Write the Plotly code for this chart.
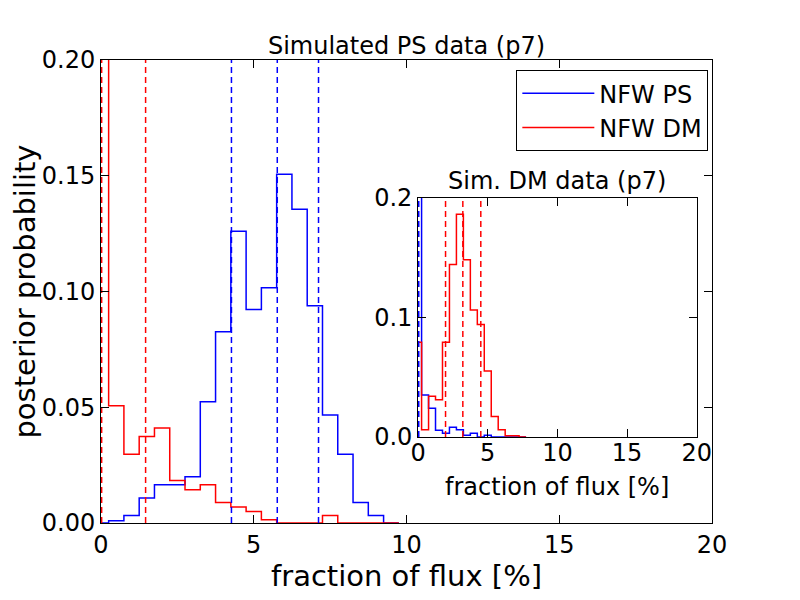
import plotly.graph_objects as go

# bin centres (width 0.5), probabilities per bin
bin_width = 0.5
ps_centres = [i * bin_width for i in range(20)]
ps_data_nfw_ps = [0.0, 0.001, 0.0032, 0.0108, 0.0165, 0.0165, 0.020, 0.0524, 0.0826, 0.126,
                  0.0922, 0.1016, 0.1506, 0.1355, 0.0938, 0.0467, 0.0297, 0.0089, 0.0032, 0.0]
ps_data_nfw_dm = [0.766, 0.0506, 0.0297, 0.0374, 0.041, 0.0184, 0.0144, 0.0165, 0.0089, 0.0069,
                  0.005, 0.0014, 0.0, 0.0, 0.0, 0.0032, 0.0, 0.0, 0.0, 0.0]
ps_lines_nfw_ps = [4.27, 5.77, 7.12]
ps_lines_nfw_dm = [0.01, 0.02, 1.46]

dm_centres = [i * bin_width for i in range(16)]
dm_data_nfw_ps = [0.913, 0.035, 0.024, 0.0056, 0.003, 0.008, 0.006, 0.0014, 0.003, 0.0,
                  0.0014, 0.0, 0.0, 0.0, 0.0, 0.0]
dm_data_nfw_dm = [0.079, 0.006, 0.034, 0.031, 0.079, 0.144, 0.186, 0.148, 0.106, 0.094,
                  0.055, 0.017, 0.006, 0.001, 0.001, 0.0]
dm_lines_nfw_ps = [0.01, 0.02, 0.04]
dm_lines_nfw_dm = [1.97, 3.21, 4.5]

BLUE = "#0000ff"
RED = "#ff0000"
FONT = "DejaVu Sans"


def step_xy(centres, vals):
    # outline of a matplotlib 'step' histogram
    edges = [c - bin_width / 2 for c in centres] + [centres[-1] + bin_width / 2]
    xs = [edges[0]] + edges
    ys = [0] + list(vals) + [0]
    return xs, ys


fig = go.Figure()

for centres, vals, col, name, ax, leg in [
    (ps_centres, ps_data_nfw_ps, BLUE, "NFW PS", "", True),
    (ps_centres, ps_data_nfw_dm, RED, "NFW DM", "", True),
    (dm_centres, dm_data_nfw_ps, BLUE, "NFW PS", "2", False),
    (dm_centres, dm_data_nfw_dm, RED, "NFW DM", "2", False),
]:
    xs, ys = step_xy(centres, vals)
    fig.add_trace(go.Scatter(x=xs, y=ys, mode="lines", line=dict(color=col, width=1.5, shape="hv"),
                             name=name, showlegend=leg, xaxis="x" + ax, yaxis="y" + ax,
                             hoverinfo="skip"))

# percentile lines
for xs_list, col, ax in [
    (ps_lines_nfw_ps, BLUE, ""),
    (ps_lines_nfw_dm, RED, ""),
    (dm_lines_nfw_ps, BLUE, "2"),
    (dm_lines_nfw_dm, RED, "2"),
]:
    for xv in xs_list:
        fig.add_trace(go.Scatter(x=[xv, xv], y=[0, 0.2], mode="lines",
                                 line=dict(color=col, width=1.5, dash="6px,4px"),
                                 showlegend=False, xaxis="x" + ax, yaxis="y" + ax,
                                 hoverinfo="skip"))

axis_style = dict(showline=True, linecolor="black", linewidth=1, mirror="ticks",
                  ticks="inside", ticklen=8, tickwidth=1, tickcolor="black",
                  showgrid=False, zeroline=False, automargin=False,
                  tickfont=dict(size=24, color="black"))

fig.update_layout(
    width=800, height=600,
    margin=dict(l=93, r=96, t=52, b=85),
    paper_bgcolor="white", plot_bgcolor="white",
    font=dict(family=FONT, size=24, color="black"),
    title=dict(text="Simulated PS data (p7)", x=0.5, xref="paper", y=1.0, yref="paper",
               yanchor="bottom", pad=dict(b=6), font=dict(size=24), automargin=False),
    xaxis=dict(range=[0, 20], tickvals=[0, 5, 10, 15, 20], domain=[0, 1],
               title=dict(text="fraction of flux [%]", standoff=6), **axis_style),
    yaxis=dict(range=[0, 0.2], tickvals=[0, 0.05, 0.1, 0.15, 0.2], tickformat=".2f",
               domain=[0, 1], title=dict(text="posterior probability", standoff=15), **axis_style),
    xaxis2=dict(range=[0, 20], tickvals=[0, 5, 10, 15, 20], domain=[0.519, 0.975],
                anchor="y2", ticklabelstandoff=-6, **axis_style),
    yaxis2=dict(range=[0, 0.2], tickvals=[0, 0.1, 0.2], tickformat=".1f",
                domain=[0.186, 0.703], anchor="x2", **axis_style),
    legend=dict(x=0.994, y=0.978, xanchor="right", yanchor="top", bgcolor="white",
                bordercolor="black", borderwidth=1, font=dict(size=24), itemwidth=72),
    annotations=[
        dict(text="Sim. DM data (p7)", x=0.747, y=0.703, xref="paper", yref="paper",
             xanchor="center", yanchor="bottom", showarrow=False, yshift=1),
        dict(text="fraction of flux [%]", x=0.747, y=0.186, xref="paper", yref="paper",
             xanchor="center", yanchor="top", showarrow=False, yshift=-34),
    ],
)

fig.write_html("out.html")
